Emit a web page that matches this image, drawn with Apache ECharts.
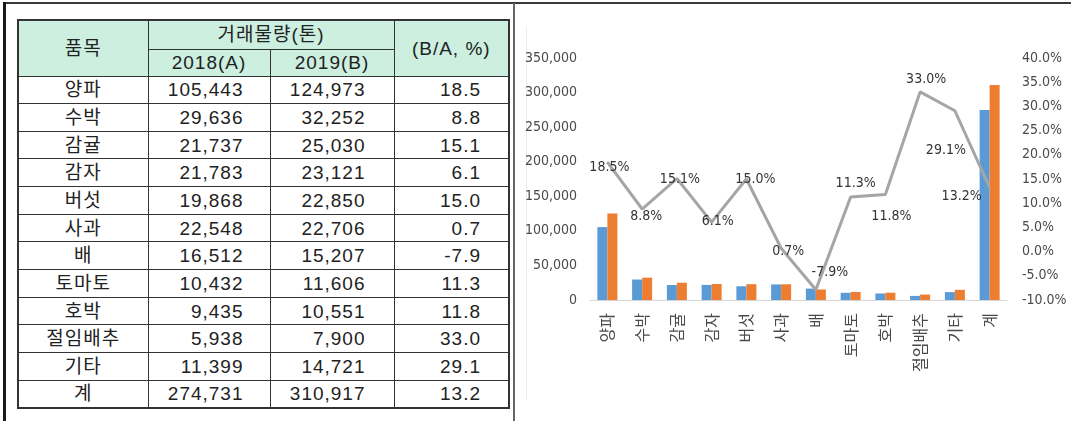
<!DOCTYPE html>
<html>
<head>
<meta charset="utf-8">
<script src="https://cdn.jsdelivr.net/npm/echarts@6/dist/echarts.min.js"></script>
<style>
  html, body { margin: 0; padding: 0; background: #fff; }
  body { width: 1071px; height: 421px; position: relative; overflow: hidden; }
  .rule { position: absolute; }
  #frameTop { left: 3px; top: 2px; width: 1068px; height: 2px; background: #3a3a3a; }
  #frameLeft { left: 3px; top: 2px; width: 3px; height: 419px; background: #1a1a1a; }
  #divider { left: 513px; top: 3px; width: 2px; height: 418px; background: #666; }
  #picEdge { left: 526px; top: 27px; width: 1px; height: 373px; background: #ececec; }
  #tbl {
    position: absolute; left: 17px; top: 19px; width: 491px;
    border-collapse: collapse; table-layout: fixed;
    border: 2px solid #333;
    font-family: "Liberation Sans", "Noto Sans CJK KR", sans-serif;
    font-size: 19px; color: #222; letter-spacing: 1px;
  }
  #tbl td { border: 1px solid #333; padding: 0; line-height: 1; white-space: nowrap; }
  #tbl td.head { background: #ccefe0; text-align: center; }
  #tbl td.name { text-align: center; }
  #tbl td.num { text-align: right; }
  #tbl td.c2 { padding-right: 26px; }
  #tbl td.c3 { padding-right: 28px; }
  #tbl td.c4 { padding-right: 27px; }
  #chart { position: absolute; left: 515px; top: 4px; width: 556px; height: 417px; filter: blur(0.45px); }
</style>
</head>
<body>
<div class="rule" id="frameTop"></div>
<div class="rule" id="frameLeft"></div>
<div class="rule" id="divider"></div>
<div class="rule" id="picEdge"></div>
<table id="tbl">
  <colgroup><col style="width:130px"><col style="width:122px"><col style="width:124px"><col style="width:115px"></colgroup>
  <tbody id="tbody"></tbody>
</table>
<div id="chart"></div>
<script>
// 품목별 거래물량 (톤)
const items = ['양파', '수박', '감귤', '감자', '버섯', '사과', '배', '토마토', '호박', '절임배추', '기타', '계'];
const vol2018 = [105443, 29636, 21737, 21783, 19868, 22548, 16512, 10432, 9435, 5938, 11399, 274731];
const vol2019 = [124973, 32252, 25030, 23121, 22850, 22706, 15207, 11606, 10551, 7900, 14721, 310917];
// 증감률 B/A (%)
const changePct = [18.5, 8.8, 15.1, 6.1, 15.0, 0.7, -7.9, 11.3, 11.8, 33.0, 29.1, 13.2];

// 표 머리글
const headItem = '품목';
const headVolume = '거래물량(톤)';
const headYears = ['2018(A)', '2019(B)'];
const headRatio = '(B/A, %)';

// 축 범위
const volAxis = { min: 0, max: 350000, interval: 50000 };
const pctAxis = { min: -10, max: 40, interval: 5 };

// 꺾은선 값 레이블 위치 조정 (px)
const lineLabelOffsets = [[2, 5], [4, 7], [3, 1], [6, -1], [9, 0], [7, 3], [14, -17], [5, -14], [6, 22], [6, -13], [-9, 40], [-28, 9]];

const fmtNum = v => v.toLocaleString('en-US');
const fmtPct = v => v.toFixed(1);

// ---- 표 ----
const tbody = document.getElementById('tbody');
function cell(tr, text, cls, attrs) {
  const td = document.createElement('td');
  td.textContent = text;
  td.className = cls;
  if (attrs) Object.keys(attrs).forEach(k => td.setAttribute(k, attrs[k]));
  tr.appendChild(td);
  return td;
}
const h1 = document.createElement('tr');
h1.style.height = '29px';
cell(h1, headItem, 'head', { rowspan: 2 });
cell(h1, headVolume, 'head', { colspan: 2 });
cell(h1, headRatio, 'head', { rowspan: 2 });
tbody.appendChild(h1);
const h2 = document.createElement('tr');
h2.style.height = '27px';
cell(h2, headYears[0], 'head');
cell(h2, headYears[1], 'head');
tbody.appendChild(h2);
items.forEach((name, i) => {
  const tr = document.createElement('tr');
  tr.style.height = '27.67px';
  cell(tr, name, 'name');
  cell(tr, fmtNum(vol2018[i]), 'num c2');
  cell(tr, fmtNum(vol2019[i]), 'num c3');
  cell(tr, fmtPct(changePct[i]), 'num c4');
  tbody.appendChild(tr);
});

// ---- 차트 ----
const chart = echarts.init(document.getElementById('chart'), null, { renderer: 'canvas' });
const axisFont = '"DejaVu Sans Condensed", "Liberation Sans", sans-serif';
chart.setOption({
  animation: false,
  grid: { left: 75, right: 64, top: 54, bottom: 121 },
  xAxis: {
    type: 'category',
    data: items,
    axisLine: { lineStyle: { color: '#d9d9d9', width: 1 } },
    axisTick: { show: false },
    axisLabel: { interval: 0, rotate: 90, margin: 13, fontSize: 16, color: '#4a4a4a', fontFamily: '"Noto Sans CJK KR", sans-serif' }
  },
  yAxis: [
    {
      type: 'value', min: volAxis.min, max: volAxis.max, interval: volAxis.interval,
      splitLine: { show: false }, axisLine: { show: false }, axisTick: { show: false },
      axisLabel: { margin: 13, fontSize: 14, color: '#4a4a4a', fontFamily: axisFont, formatter: v => fmtNum(v) }
    },
    {
      type: 'value', position: 'right', min: pctAxis.min, max: pctAxis.max, interval: pctAxis.interval,
      splitLine: { show: false }, axisLine: { show: false }, axisTick: { show: false },
      axisLabel: { margin: 15, fontSize: 14, color: '#4a4a4a', fontFamily: axisFont, formatter: v => fmtPct(v) + '%' }
    }
  ],
  series: [
    { name: headYears[0], type: 'bar', data: vol2018, barWidth: 10, barGap: '0%', itemStyle: { color: '#5b9bd5' } },
    { name: headYears[1], type: 'bar', data: vol2019, barWidth: 10, barGap: '0%', itemStyle: { color: '#ed7d31' } },
    {
      name: headRatio, type: 'line', yAxisIndex: 1, z: 5,
      data: changePct.map((v, i) => ({ value: v, label: { offset: lineLabelOffsets[i] } })),
      symbol: 'circle', symbolSize: 1,
      lineStyle: { color: '#a5a5a5', width: 3 },
      itemStyle: { color: '#a5a5a5' },
      label: {
        show: true, position: 'inside', fontSize: 14, color: '#333', fontFamily: axisFont,
        formatter: p => fmtPct(p.value) + '%'
      }
    }
  ]
});
</script>
</body>
</html>
